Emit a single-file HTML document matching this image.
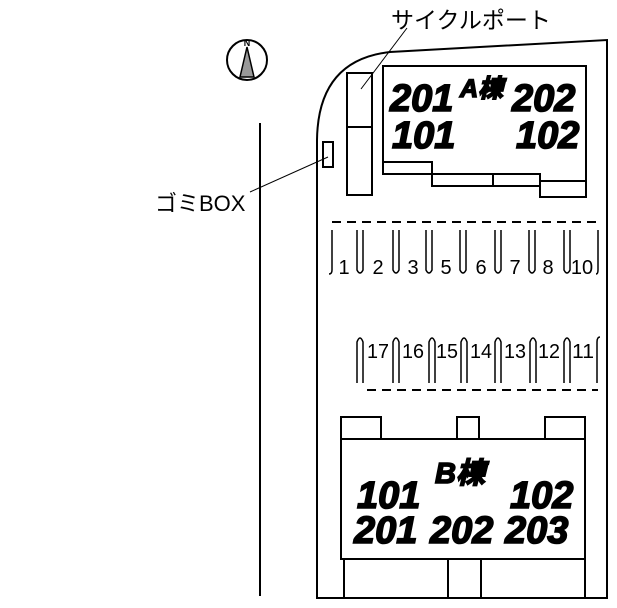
<!DOCTYPE html>
<html><head><meta charset="utf-8"><style>
html,body{margin:0;padding:0;background:#fff;}
svg{display:block;}
.b{font-family:"Liberation Sans","Noto Sans CJK JP",sans-serif;font-weight:bold;font-style:italic;fill:#000;stroke:#000;stroke-width:1.6;}
.n{font-family:"Liberation Sans","Noto Sans CJK JP",sans-serif;fill:#000;}
</style></head><body>
<svg width="617" height="608" viewBox="0 0 617 608" xmlns="http://www.w3.org/2000/svg">
<g fill="none" stroke="#000" stroke-width="2">
<path d="M317,598 L317,140 Q318,60 390,52 L607,40 L607,598 Z"/>
<line x1="260" y1="123" x2="260" y2="596"/>
<circle cx="247" cy="60" r="20"/>
<rect x="347" y="73" width="25" height="122"/>
<line x1="347" y1="127" x2="372" y2="127"/>
<rect x="323" y="142" width="10" height="25"/>
<path d="M383,174 L383,66 L586,66 L586,197 L540,197 L540,186 L432,186 L432,174 Z"/>
<path d="M383,162 L432,162 L432,174 M432,174 L540,174 L540,186 M493,174 L493,186 M540,181 L586,181"/>
<rect x="341" y="439" width="244" height="120"/>
<path d="M341,439 V417 H381 V439 M457,439 V417 H479 V439 M545,439 V417 H585 V439"/>
<path d="M344,559 V598 M448,559 V598 M481,559 V598 M585,559 V598"/>
</g>
<g stroke="#000" stroke-width="1" fill="none">
<line x1="407" y1="28" x2="361" y2="89"/>
<line x1="250" y1="192" x2="328" y2="157"/>
</g>
<polygon points="247,47 240,77 254,77" fill="#999" stroke="#000" stroke-width="1.5"/>
<text x="247" y="46" font-size="9" font-weight="bold" text-anchor="middle" class="n">N</text>
<line x1="332" y1="222" x2="598" y2="222" stroke="#000" stroke-width="2" stroke-dasharray="9,6"/>
<line x1="367" y1="390" x2="598" y2="390" stroke="#000" stroke-width="2" stroke-dasharray="9,6"/>
<g fill="none" stroke="#000" stroke-width="1.5">
<path d="M332,230 V270 Q332,274 329,274"/>
<path d="M357,230 V270 Q360,276 363,270 V230"/>
<path d="M393,230 V270 Q396,276 399,270 V230"/>
<path d="M426,230 V270 Q429,276 432,270 V230"/>
<path d="M460,230 V270 Q463,276 466,270 V230"/>
<path d="M495,230 V270 Q498,276 501,270 V230"/>
<path d="M529,230 V270 Q532,276 535,270 V230"/>
<path d="M564,230 V270 Q567,276 570,270 V230"/>
<path d="M598,230 V270 Q598,274 596,274"/>
<path d="M357,383 V342 Q360,334 363,342 V383"/>
<path d="M393,383 V342 Q396,334 399,342 V383"/>
<path d="M429,383 V342 Q432,334 435,342 V383"/>
<path d="M461,383 V342 Q464,334 467,342 V383"/>
<path d="M495,383 V342 Q498,334 501,342 V383"/>
<path d="M530,383 V342 Q533,334 536,342 V383"/>
<path d="M564,383 V342 Q567,334 570,342 V383"/>
<path d="M597,383 V342 Q597,337 600,337"/>
</g>
<g class="n" font-size="20" text-anchor="middle">
<text x="344" y="274">1</text><text x="378" y="274">2</text><text x="413" y="274">3</text><text x="446" y="274">5</text><text x="481" y="274">6</text><text x="515" y="274">7</text><text x="548" y="274">8</text><text x="582" y="274">10</text>
</g>
<g class="n" font-size="20" text-anchor="middle">
<text x="378" y="358" textLength="22" lengthAdjust="spacingAndGlyphs">17</text><text x="413" y="358" textLength="22" lengthAdjust="spacingAndGlyphs">16</text><text x="447" y="358" textLength="22" lengthAdjust="spacingAndGlyphs">15</text><text x="481" y="358" textLength="22" lengthAdjust="spacingAndGlyphs">14</text><text x="515" y="358" textLength="22" lengthAdjust="spacingAndGlyphs">13</text><text x="549" y="358" textLength="22" lengthAdjust="spacingAndGlyphs">12</text><text x="583" y="358" textLength="22" lengthAdjust="spacingAndGlyphs">11</text>
</g>
<text x="391" y="28" class="n" font-size="23">サイクルポート</text>
<text x="155" y="211" class="n" font-size="22">ゴミBOX</text>
<g class="b">
<text x="390" y="111" font-size="38">201</text>
<text x="460" y="97" font-size="25">A棟</text>
<text x="512" y="111" font-size="38">202</text>
<text x="392" y="148" font-size="38">101</text>
<text x="516" y="148" font-size="38">102</text>
<text x="435" y="483" font-size="29">B棟</text>
<text x="357" y="508" font-size="38">101</text>
<text x="510" y="508" font-size="38">102</text>
<text x="354" y="543" font-size="38">201</text>
<text x="430" y="543" font-size="38">202</text>
<text x="505" y="543" font-size="38">203</text>
</g>
</svg>
</body></html>
